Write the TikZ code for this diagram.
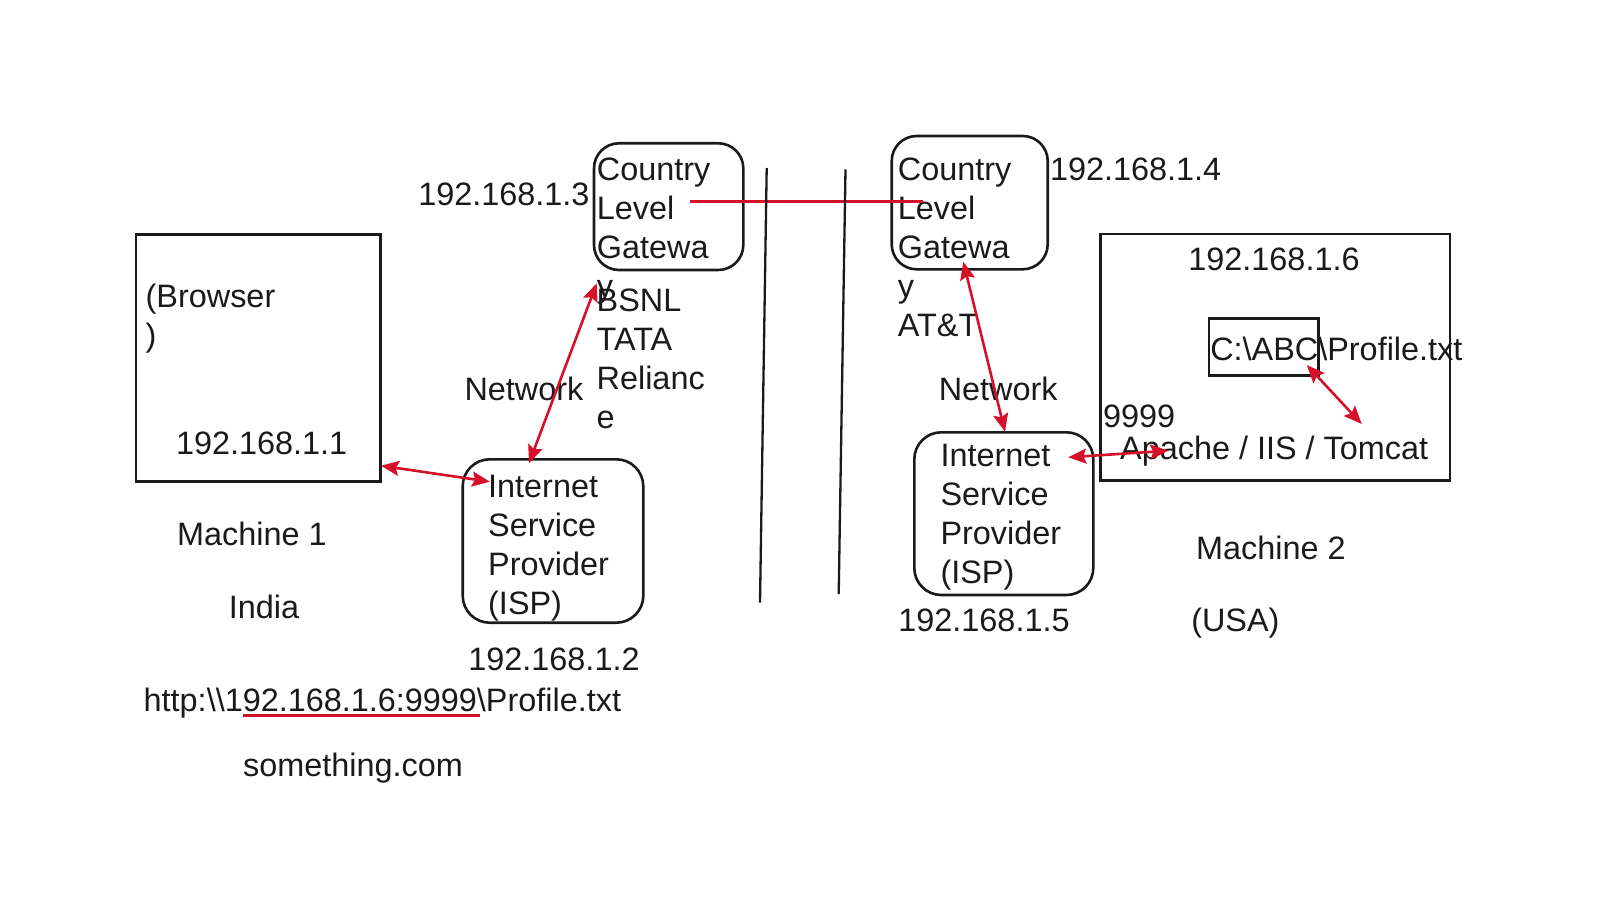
\documentclass[tikz,border=0pt]{standalone}
\usepackage{fontspec}
\setmainfont{Liberation Sans}
\usetikzlibrary{arrows.meta}
\definecolor{ink}{HTML}{1A1A1A}
\definecolor{redl}{HTML}{D7102A}
\newcommand\fz{\fontsize{32.4}{39}\selectfont}
\begin{document}
\begin{tikzpicture}[x=1pt,y=-1pt,
  sbox/.style={draw=ink, line width=2.6pt, inner sep=0pt},
  rbox/.style={sbox, rounded corners=#1},
  mtext/.style={anchor=north west, inner sep=0pt, align=left, yshift=27.3pt, font=\fz, text=ink},
  stext/.style={anchor=base west, inner sep=0pt, font=\fz, text=ink},
  rline/.style={draw=redl, line width=2.6pt},
  rarrow/.style={rline, {Stealth[length=18pt,width=15pt,inset=3pt]}-{Stealth[length=18pt,width=15pt,inset=3pt]}},
  vline/.style={draw=ink, line width=2.3pt}
]
\useasboundingbox (0,0) rectangle (1609,915);

% boxes
\node[sbox, minimum width=244.7pt, minimum height=247.4pt] (m1) at (258.35,358) {};
\node[rbox=27pt, minimum width=180.6pt, minimum height=163.4pt] (isp1) at (553,541) {};
\node[rbox=25pt, minimum width=149.3pt, minimum height=126.7pt] (gw1) at (668.65,206.65) {};
\node[rbox=25pt, minimum width=156pt, minimum height=133.3pt] (gw2) at (969.7,202.65) {};
\node[rbox=27pt, minimum width=179pt, minimum height=162.7pt] (isp2) at (1003.8,513.65) {};
\node[sbox, minimum width=349.3pt, minimum height=246.7pt] (m2) at (1275.35,357.35) {};
\node[sbox, minimum width=109.3pt, minimum height=57.4pt] (file) at (1263.65,347) {};

% texts, left side
\node[mtext] (browser) at (145.5,307.7) {\strut (Browser\\)};
\node[stext] (ip1) at (175.8,454.3) {192.168.1.1};
\node[stext] (mach1) at (177,545) {Machine 1};
\node[stext] (india) at (228.7,618.3) {India};
\node[mtext] (isp1t) at (488,497.3) {\strut Internet\\Service\\Provider\\(ISP)};
\node[stext] (ip2) at (468.2,670) {192.168.1.2};
\node[stext] (url) at (143.5,711.5) {http:\textbackslash\textbackslash 192.168.1.6:9999\textbackslash Profile.txt};
\node[stext] (dom) at (243,776.5) {something.com};
\node[stext] (net1) at (464.3,400) {Network};
\node[mtext] (gw1t) at (596.7,180) {\strut Country\\Level\\Gatewa\\y};
\node[mtext] (prov1) at (596.5,311.7) {\strut BSNL\\TATA\\Relianc\\e};
\node[anchor=base east, inner sep=0pt, font=\fz, text=ink] (ip3) at (589.7,205) {192.168.1.3};

% texts, right side
\node[mtext] (gw2t) at (897.7,180) {\strut Country\\Level\\Gatewa\\y\\AT\&T};
\node[stext] (ip4) at (1049.8,180) {192.168.1.4};
\node[stext] (net2) at (938.6,400) {Network};
\node[mtext] (isp2t) at (940.3,466.7) {\strut Internet\\Service\\Provider\\(ISP)};
\node[stext] (ip5) at (898.2,631.7) {192.168.1.5};
\node[stext] (usa) at (1191.1,631.7) {(USA)};
\node[stext] (mach2) at (1196,559.2) {Machine 2};
\node[stext] (ip6) at (1188.2,270.7) {192.168.1.6};
\node[stext] (path) at (1210.1,360) {C:\textbackslash ABC\textbackslash Profile.txt};
\node[stext] (port) at (1102.8,427.3) {9999};
\node[stext] (srv) at (1120,459.3) {Apache / IIS / Tomcat};

% connector end points
\coordinate (a1s) at (381,465.7);   \coordinate (a1e) at (490,481.7);
\coordinate (a2s) at (529,463.3);   \coordinate (a2e) at (596.7,283.3);
\coordinate (a3s) at (963.3,261.7); \coordinate (a3e) at (1005,431.7);
\coordinate (a4s) at (1068.3,457.3);\coordinate (a4e) at (1168.3,450.7);
\coordinate (a5s) at (1306.7,365);  \coordinate (a5e) at (1361.7,424);
\coordinate (hs) at (690,201.5);    \coordinate (he) at (923.3,201.5);
\coordinate (us) at (242.5,715.5);  \coordinate (ue) at (480,715.5);
\coordinate (v1t) at (766.7,168);   \coordinate (v1b) at (760,602.7);
\coordinate (v2t) at (845.5,169.3); \coordinate (v2b) at (838.7,594);

% connectors
\draw[rarrow] (a1s) -- (a1e);
\draw[rarrow] (a2s) -- (a2e);
\draw[rarrow] (a3s) -- (a3e);
\draw[rarrow] (a4s) -- (a4e);
\draw[rarrow] (a5s) -- (a5e);
\draw[rline] (hs) -- (he);
\draw[rline, line width=2.2pt] (us) -- (ue);
\draw[vline] (v1t) -- (v1b);
\draw[vline] (v2t) -- (v2b);
\end{tikzpicture}
\end{document}
